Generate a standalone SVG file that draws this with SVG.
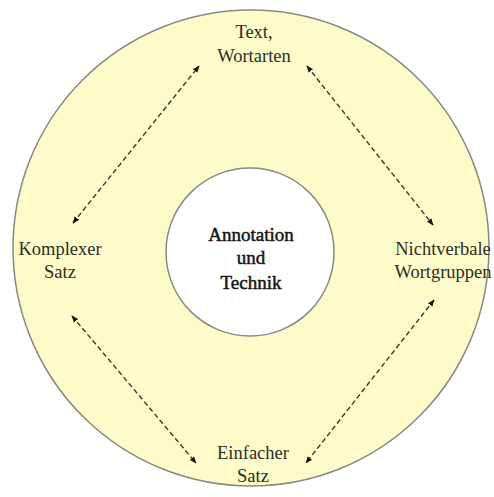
<svg xmlns="http://www.w3.org/2000/svg" width="494" height="497" viewBox="0 0 494 497">
  <style>
    .ring { fill: #fdfbc9; stroke: #8a8a80; stroke-width: 1.5; }
    .core { fill: #ffffff; stroke: #8a8a80; stroke-width: 1.5; }
    .lbl { font-family: "Liberation Serif", "DejaVu Serif", serif; font-size: 18.5px; fill: #2e2e24; text-anchor: middle; }
    .core-lbl { font-family: "Liberation Serif", "DejaVu Serif", serif; font-size: 19px; fill: #161616; stroke: #161616; stroke-width: 0.5; text-anchor: middle; }
    .link { stroke: #3a3a30; stroke-width: 1.4; stroke-dasharray: 5 3; fill: none; marker-start: url(#tip); marker-end: url(#tip); }
  </style>
  <defs>
    <marker id="tip" viewBox="0 0 10 10" refX="9" refY="5" markerWidth="7" markerHeight="7" orient="auto-start-reverse" markerUnits="userSpaceOnUse">
      <path d="M0,1 L10,5 L0,9 Z" fill="#111"/>
    </marker>
  </defs>
  <rect width="494" height="497" fill="#ffffff"/>
  <g id="outer-ring">
    <circle class="ring" cx="251" cy="248" r="238"/>
  </g>
  <g id="connectors">
    <line class="link" x1="73" y1="223" x2="199" y2="66"/>
    <line class="link" x1="307" y1="66" x2="433" y2="225"/>
    <line class="link" x1="72" y1="316" x2="196" y2="463"/>
    <line class="link" x1="434" y1="300" x2="306" y2="463"/>
  </g>
  <g id="core">
    <circle class="core" cx="250" cy="252" r="84"/>
    <text class="core-lbl" x="251" y="241">Annotation</text>
    <text class="core-lbl" x="251" y="264">und</text>
    <text class="core-lbl" x="251" y="289">Technik</text>
  </g>
  <g id="text-wortarten">
    <text class="lbl" x="254" y="38">Text,</text>
    <text class="lbl" x="254" y="62">Wortarten</text>
  </g>
  <g id="komplexer-satz">
    <text class="lbl" x="60" y="255">Komplexer</text>
    <text class="lbl" x="60" y="278">Satz</text>
  </g>
  <g id="nichtverbale-wortgruppen">
    <text class="lbl" x="443" y="255">Nichtverbale</text>
    <text class="lbl" x="443" y="278">Wortgruppen</text>
  </g>
  <g id="einfacher-satz">
    <text class="lbl" x="253" y="459">Einfacher</text>
    <text class="lbl" x="253" y="482">Satz</text>
  </g>
</svg>
